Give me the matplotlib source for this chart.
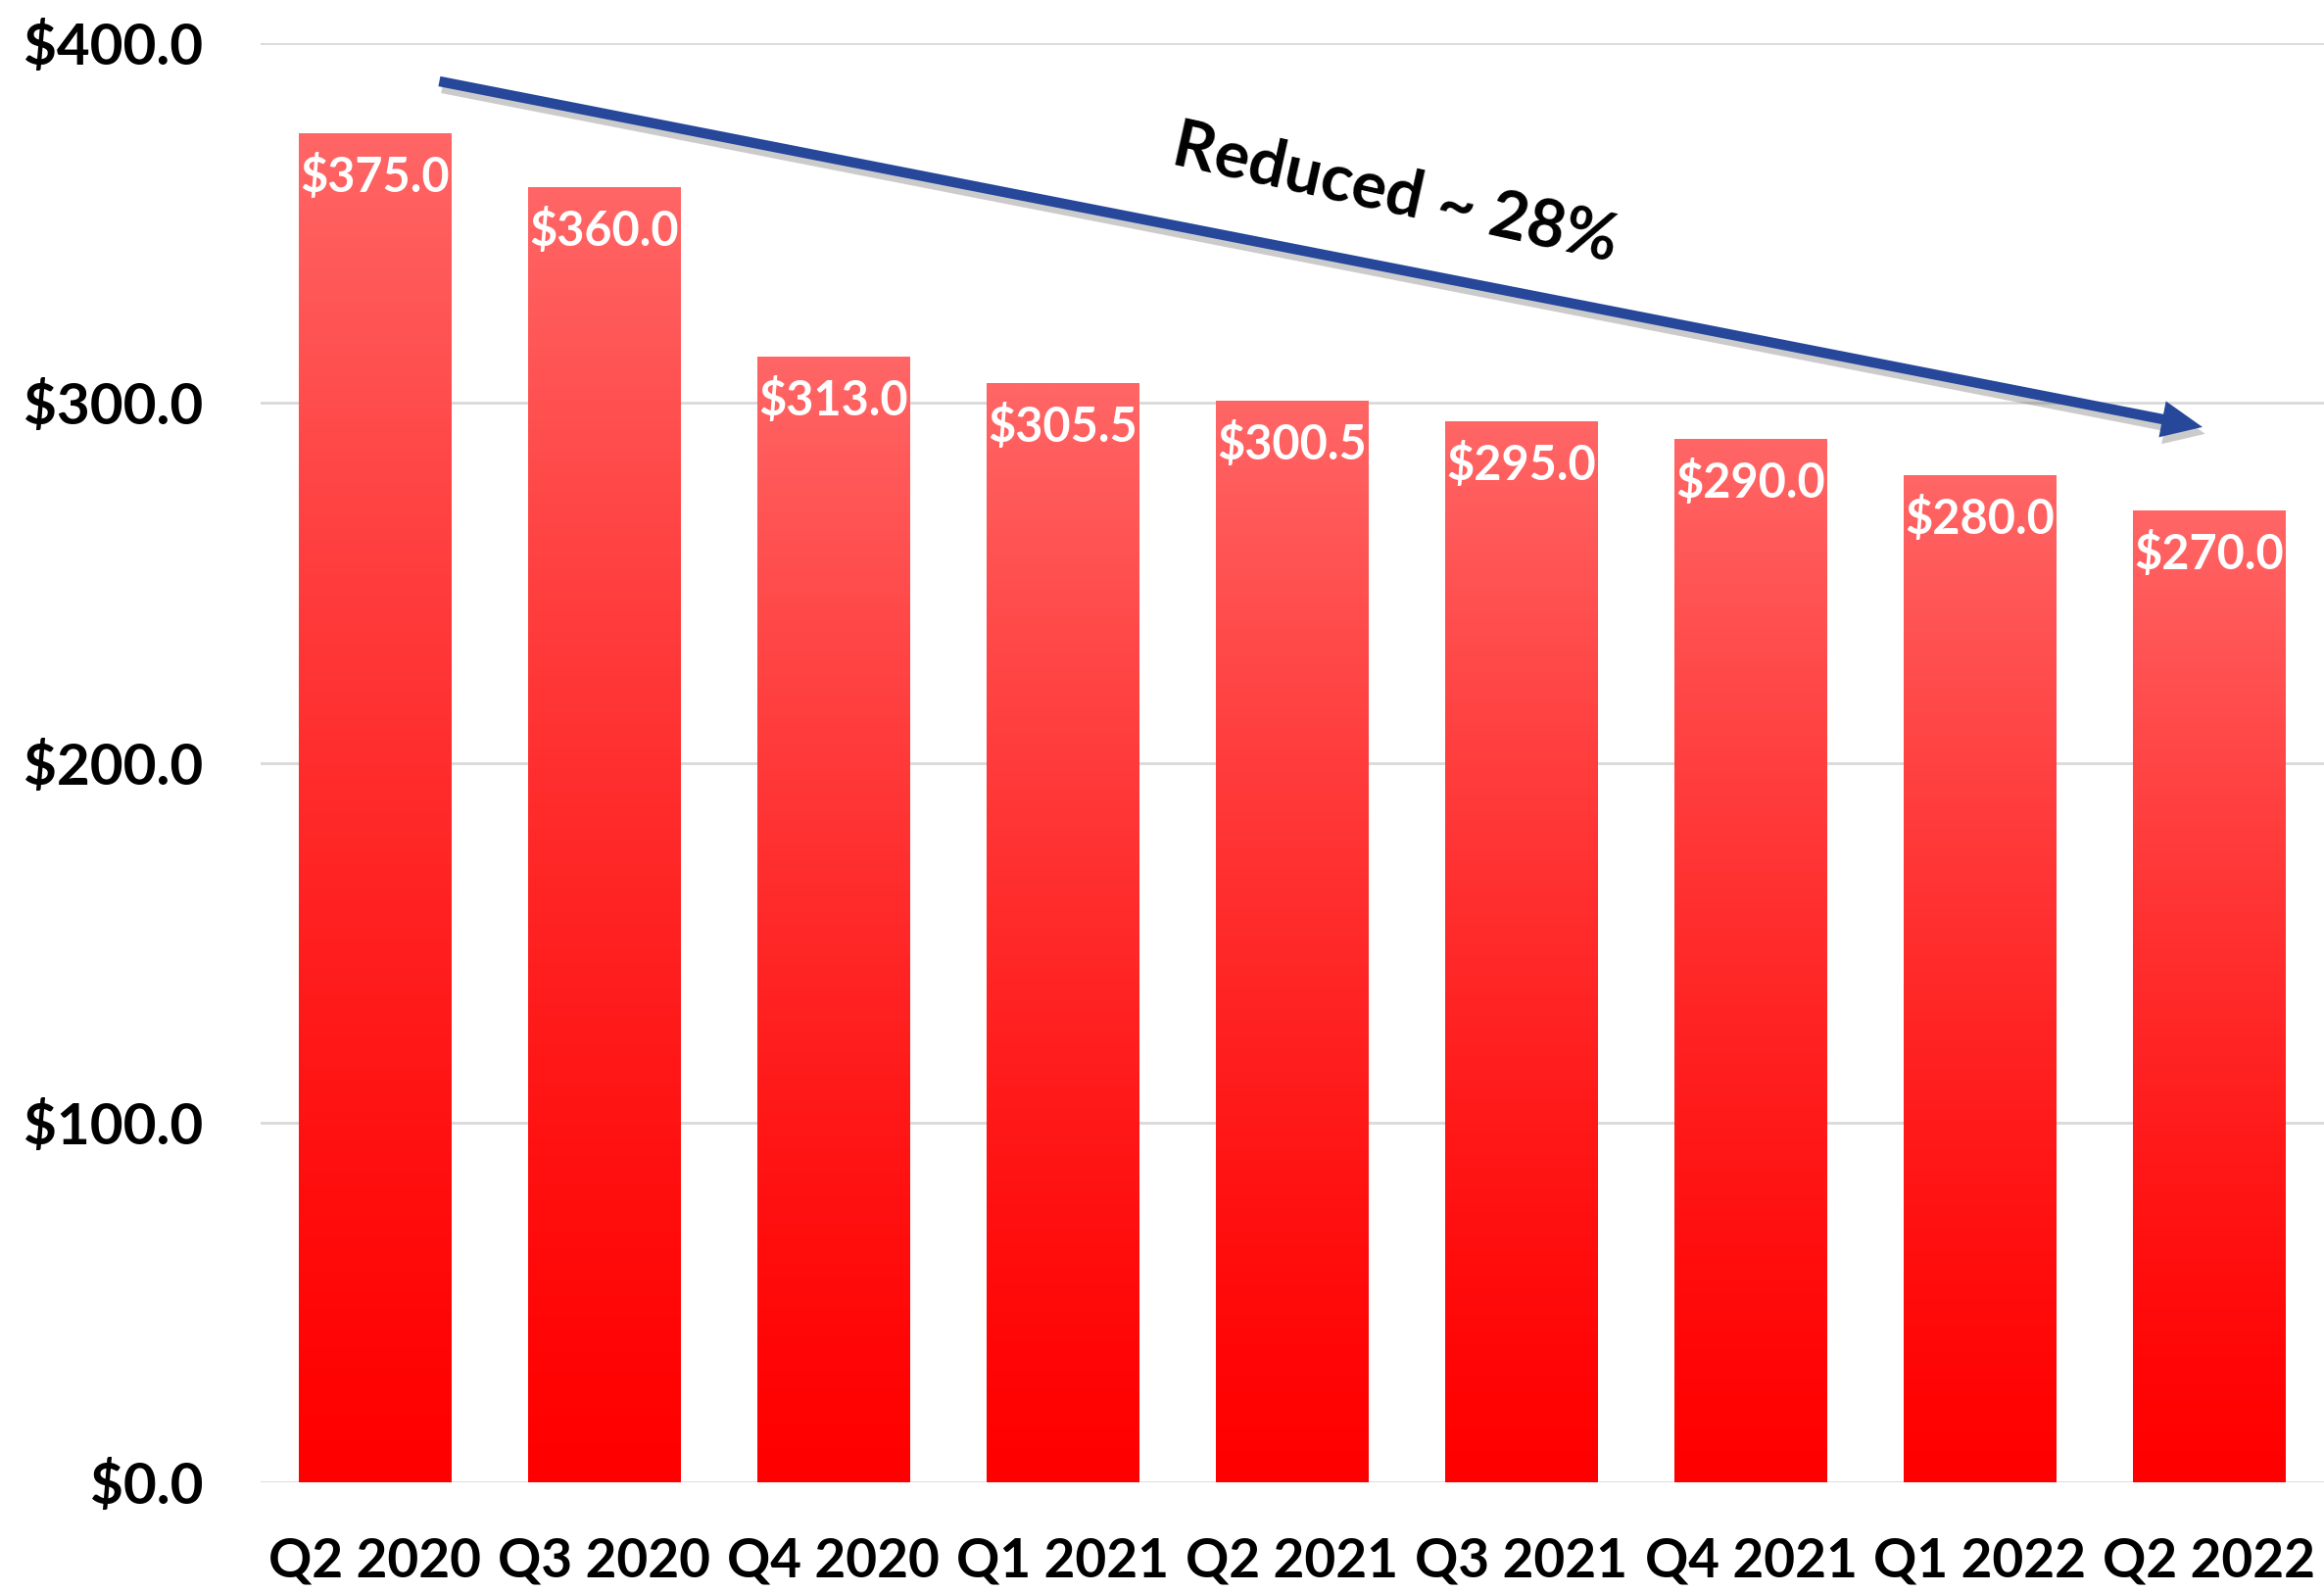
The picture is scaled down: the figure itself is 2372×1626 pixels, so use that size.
import numpy as np
import matplotlib
matplotlib.use("Agg")
import matplotlib.pyplot as plt
import matplotlib.patheffects as pe

# data
quarters = ["Q2 2020", "Q3 2020", "Q4 2020", "Q1 2021", "Q2 2021",
            "Q3 2021", "Q4 2021", "Q1 2022", "Q2 2022"]
values = [375.0, 360.0, 313.0, 305.5, 300.5, 295.0, 290.0, 280.0, 270.0]
yticks = [0, 100, 200, 300, 400]
note = "Reduced ~ 28%"

plt.rcParams["font.family"] = ["Lato", "DejaVu Sans"]
plt.rcParams["font.weight"] = "bold"

fig = plt.figure(figsize=(23.72, 16.26), dpi=100)
ax = fig.add_axes([0.1121, 0.0695, 0.8879, 0.9034])

x = np.arange(len(quarters))
bars = ax.bar(x, values, width=0.665, color="none", edgecolor="none", zorder=2)

# vertical gradient: light red at the top of each bar, pure red at the bottom
frac = np.linspace(0, 1, 256)[:, None]
light = 102 * frac ** 1.3
grad = np.dstack([np.ones_like(frac), light / 255, light / 255])
for b in bars:
    x0, w, h = b.get_x(), b.get_width(), b.get_height()
    im = ax.imshow(grad, extent=[x0, x0 + w, 0, h], origin="lower",
                   aspect="auto", zorder=2, interpolation="bilinear")
    im.set_clip_path(b)

for xi, v in zip(x, values):
    ax.annotate(f"${v:.1f}", xy=(xi, v), xytext=(0, -32), textcoords="offset points",
                ha="center", va="center", color="white", fontsize=35, fontweight="bold",
                zorder=4)

ax.set_xlim(-0.5, len(quarters) - 0.5)
ax.set_ylim(0, 400)
ax.set_yticks(yticks)
ax.set_yticklabels([f"${t:.1f}" for t in yticks])
ax.set_xticks(x)
ax.set_xticklabels(quarters)
ax.tick_params(axis="y", length=0, labelsize=42, pad=42)
ax.tick_params(axis="x", length=0, labelsize=39.5, pad=40)
for s in ax.spines.values():
    s.set_visible(False)
ax.yaxis.grid(True, color="#d9d9d9", linewidth=2, zorder=0)
ax.set_axisbelow(True)

# trend arrow with soft shadow
arr = ax.annotate("", xy=(7.97, 293.3), xytext=(0.28, 389.4),
                  arrowprops=dict(arrowstyle="simple,head_length=3.0,head_width=2.7,tail_width=0.75",
                                  mutation_scale=10, fc="#26479a", ec="none",
                                  shrinkA=0, shrinkB=0),
                  zorder=5)
arr.arrow_patch.set_path_effects([
    pe.SimplePatchShadow(offset=(2, -5), shadow_rgbFace="#555555", alpha=0.3),
    pe.Normal()])

ax.text(4.45, 358.0, note, rotation=-12.5, rotation_mode="anchor",
        ha="center", va="center", fontsize=48, fontweight="bold", color="black", zorder=5)

fig.savefig("out.png", dpi=100)
